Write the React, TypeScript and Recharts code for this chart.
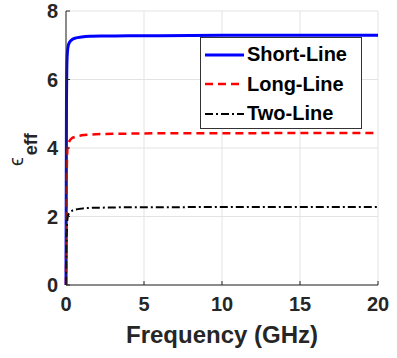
import React from "react";
import {
  LineChart,
  Line,
  XAxis,
  YAxis,
  CartesianGrid,
  Legend,
  Label,
} from "recharts";

const freq = [0, 0.03, 0.06, 0.1, 0.15, 0.25, 0.4, 0.6, 1, 1.5, 2.5, 4, 6, 10, 15, 20];
const shortLine = [0, 5.2, 6.5, 6.85, 7.0, 7.1, 7.17, 7.21, 7.24, 7.26, 7.27, 7.28, 7.28, 7.29, 7.29, 7.29];
const longLine = [0, 2.5, 3.6, 4.0, 4.12, 4.22, 4.29, 4.33, 4.37, 4.39, 4.41, 4.42, 4.43, 4.43, 4.44, 4.44];
const twoLine = [0, 1.2, 1.7, 1.95, 2.05, 2.12, 2.17, 2.2, 2.23, 2.25, 2.26, 2.27, 2.27, 2.28, 2.28, 2.28];

const seriesNames = ["Short-Line", "Long-Line", "Two-Line"];
const xTicks = [0, 5, 10, 15, 20];
const yTicks = [0, 2, 4, 6, 8];

const data = freq.map((f, i) => ({
  f,
  short: shortLine[i],
  long: longLine[i],
  two: twoLine[i],
}));

const font = "'Liberation Sans', Arial, sans-serif";
const tickStyle = { fontSize: 20, fontWeight: 700, fill: "#262626", fontFamily: font };

const LegendBox = (props: any) => {
  const items = [...(props.payload || [])].sort(
    (a: any, b: any) => seriesNames.indexOf(a.value) - seriesNames.indexOf(b.value)
  );
  return (
    <div
      style={{
        border: "1px solid #333",
        background: "#fff",
        width: 162,
        height: 92,
        boxSizing: "border-box",
        paddingTop: 2,
      }}
    >
      {items.map((it: any) => (
        <div key={it.value} style={{ display: "flex", alignItems: "center", height: 29.5 }}>
          <svg width={44} height={10} style={{ marginLeft: 3, flex: "none" }}>
            <line
              x1={1}
              x2={40}
              y1={5}
              y2={5}
              stroke={it.color}
              strokeWidth={it.payload.strokeWidth}
              strokeDasharray={it.payload.strokeDasharray}
            />
          </svg>
          <span
            style={{
              fontFamily: font,
              fontWeight: 700,
              fontSize: 20,
              color: "#000",
              marginLeft: -1,
              whiteSpace: "nowrap",
            }}
          >
            {it.value}
          </span>
        </div>
      ))}
    </div>
  );
};

// rotated epsilon with bold "eff" subscript
const EpsLabel = () => {
  const cx = 23;
  const cy = 166;
  return (
    <text
      transform={`rotate(-90, ${cx}, ${cy})`}
      x={cx}
      y={cy}
      textAnchor="start"
      fontFamily={font}
      fill="#262626"
    >
      <tspan fontSize={20}>ϵ</tspan>
      <tspan fontSize={18} fontWeight={700} dy={14} dx={2}>
        eff
      </tspan>
    </text>
  );
};

export default function App() {
  return (
    <div style={{ position: "absolute", left: 0, top: 0 }}>
      <LineChart
        width={397}
        height={358}
        data={data}
        margin={{ top: 11, right: 19, left: 0, bottom: 0 }}
      >
        <CartesianGrid stroke="#e3e3e3" strokeWidth={1} />
        <XAxis
          dataKey="f"
          type="number"
          domain={[0, 20]}
          ticks={xTicks}
          height={73}
          stroke="#262626"
          tickSize={-4}
          tickMargin={16}
          tick={tickStyle}
          interval={0}
        >
          <Label
            value="Frequency (GHz)"
            position="insideTop"
            offset={0}
            dy={41}
            style={{ fontSize: 24, fontWeight: 700, fill: "#262626", fontFamily: font }}
          />
        </XAxis>
        <XAxis
          xAxisId="top"
          orientation="top"
          dataKey="f"
          type="number"
          domain={[0, 20]}
          ticks={xTicks}
          height={0}
          stroke="#262626"
          tickSize={-4}
          tickFormatter={() => ""}
        />
        <YAxis
          type="number"
          domain={[0, 8]}
          ticks={yTicks}
          width={66}
          stroke="#262626"
          tickSize={-4}
          tickMargin={12}
          tick={tickStyle}
          interval={0}
        >
          <Label content={<EpsLabel />} />
        </YAxis>
        <YAxis
          yAxisId="right"
          orientation="right"
          type="number"
          domain={[0, 8]}
          ticks={yTicks}
          width={0}
          stroke="#262626"
          tickSize={-4}
          tickFormatter={() => ""}
        />
        <Legend
          content={<LegendBox />}
          layout="vertical"
          align="center"
          verticalAlign="middle"
          wrapperStyle={{ position: "absolute", left: 200, top: 37, width: 162, height: 92 }}
        />
        <Line
          dataKey="short"
          name="Short-Line"
          type="monotone"
          stroke="#0000ff"
          strokeWidth={3}
          dot={false}
          isAnimationActive={false}
        />
        <Line
          dataKey="long"
          name="Long-Line"
          type="monotone"
          stroke="#ff0000"
          strokeWidth={2.5}
          strokeDasharray="8 5"
          dot={false}
          isAnimationActive={false}
        />
        <Line
          dataKey="two"
          name="Two-Line"
          type="monotone"
          stroke="#000000"
          strokeWidth={2}
          strokeDasharray="8 3 2 3"
          dot={false}
          isAnimationActive={false}
        />
      </LineChart>
    </div>
  );
}
